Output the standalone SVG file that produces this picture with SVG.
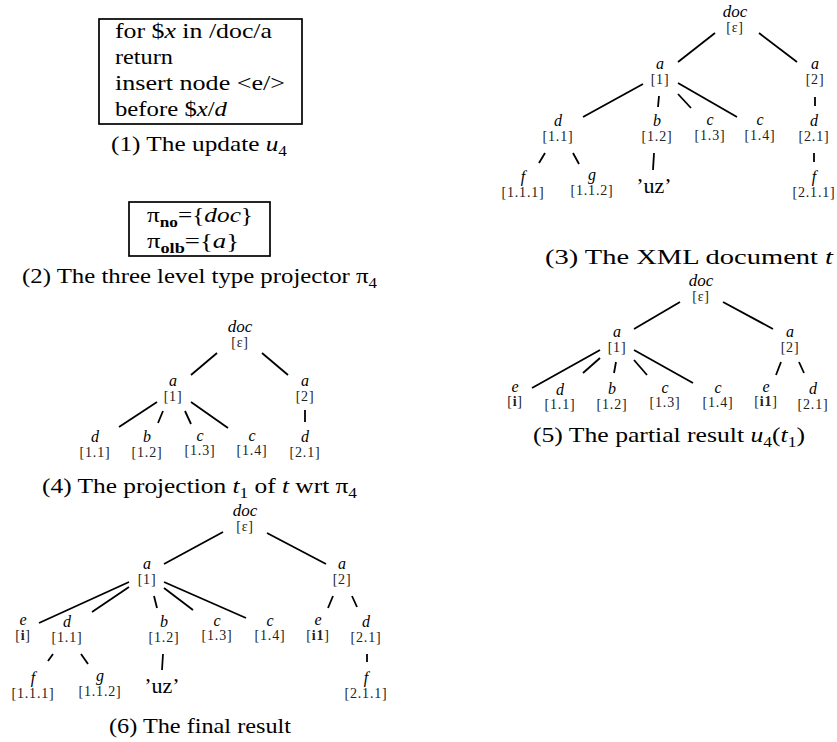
<svg xmlns="http://www.w3.org/2000/svg" width="837" height="742" viewBox="0 0 837 742">
<style>
text { font-family: "Liberation Serif", "Times New Roman", serif; fill: #000; }
.cap { font-size: 22px; }
.it { font-style: italic; }
.sub { font-size: 15px; }
.bf { font-weight: bold; }
.lab { font-size: 16px; font-style: italic; text-anchor: middle; }
.doc { font-size: 17px; }
.idx { font-size: 14px; text-anchor: middle; letter-spacing: 0.8px; fill: #222; }
.big { font-size: 22px; text-anchor: middle; }
.edge { stroke: #000; stroke-width: 1.8; fill: none; }
.box { fill: none; stroke: #000; stroke-width: 1.7; }
</style>
<rect width="837" height="742" fill="#fff"/>

<!-- (1) update box -->
<g id="panel1">
  <rect class="box" x="99" y="19" width="203" height="105"/>
  <text class="cap" x="115" y="38" textLength="157" lengthAdjust="spacingAndGlyphs">for $<tspan class="it">x</tspan> in /doc/a</text>
  <text class="cap" x="115" y="64" textLength="58" lengthAdjust="spacingAndGlyphs">return</text>
  <text class="cap" x="115" y="90" textLength="170" lengthAdjust="spacingAndGlyphs">insert node &lt;e/&gt;</text>
  <text class="cap" x="115" y="116" textLength="112" lengthAdjust="spacingAndGlyphs">before $<tspan class="it">x</tspan>/<tspan class="it">d</tspan></text>
  <text class="cap" x="111" y="151" textLength="176" lengthAdjust="spacingAndGlyphs">(1) The update <tspan class="it">u</tspan><tspan class="sub" dy="5">4</tspan></text>
</g>

<!-- (2) projector box -->
<g id="panel2">
  <rect class="box" x="129" y="202" width="141" height="54"/>
  <text class="cap" x="147" y="222" textLength="106" lengthAdjust="spacingAndGlyphs">π<tspan class="sub bf" dy="5">no</tspan><tspan dy="-5">={</tspan><tspan class="it">doc</tspan>}</text>
  <text class="cap" x="147" y="248" textLength="92" lengthAdjust="spacingAndGlyphs">π<tspan class="sub bf" dy="5">olb</tspan><tspan dy="-5">={</tspan><tspan class="it">a</tspan>}</text>
  <text class="cap" x="22" y="283" textLength="355" lengthAdjust="spacingAndGlyphs">(2) The three level type projector π<tspan class="sub" dy="5">4</tspan></text>
</g>

<!-- (4) projection tree -->
<g id="tree4">
  <g id="t4-edges">
    <line class="edge" x1="217" y1="353" x2="191" y2="375"/>
    <line class="edge" x1="262" y1="353" x2="288" y2="375"/>
    <line class="edge" x1="157" y1="402" x2="119" y2="427"/>
    <line class="edge" x1="163" y1="411" x2="158" y2="423"/>
    <line class="edge" x1="185" y1="411" x2="191" y2="424"/>
    <line class="edge" x1="191" y1="402" x2="228" y2="428"/>
    <line class="edge" x1="305" y1="410" x2="305" y2="422"/>
  </g>
  <g id="t4-doc"><text class="lab doc" x="240" y="332">doc</text><text class="idx" x="240" y="347">[ε]</text></g>
  <g id="t4-a1"><text class="lab" x="173" y="386">a</text><text class="idx" x="173" y="401">[1]</text></g>
  <g id="t4-a2"><text class="lab" x="305" y="386">a</text><text class="idx" x="305" y="401">[2]</text></g>
  <g id="t4-d11"><text class="lab" x="95" y="442">d</text><text class="idx" x="95" y="457">[1.1]</text></g>
  <g id="t4-b12"><text class="lab" x="147" y="442">b</text><text class="idx" x="147" y="457">[1.2]</text></g>
  <g id="t4-c13"><text class="lab" x="200" y="441">c</text><text class="idx" x="200" y="455">[1.3]</text></g>
  <g id="t4-c14"><text class="lab" x="252" y="441">c</text><text class="idx" x="252" y="455">[1.4]</text></g>
  <g id="t4-d21"><text class="lab" x="305" y="442">d</text><text class="idx" x="305" y="457">[2.1]</text></g>
  <text class="cap" x="42" y="493" textLength="315" lengthAdjust="spacingAndGlyphs">(4) The projection <tspan class="it">t</tspan><tspan class="sub" dy="5">1</tspan><tspan dy="-5"> of </tspan><tspan class="it">t</tspan> wrt π<tspan class="sub" dy="5">4</tspan></text>
</g>

<!-- (6) final result tree -->
<g id="tree6">
  <g id="t6-edges">
    <line class="edge" x1="223" y1="532" x2="164" y2="564"/>
    <line class="edge" x1="267" y1="533" x2="326" y2="564"/>
    <line class="edge" x1="129" y1="582" x2="39" y2="623"/>
    <line class="edge" x1="129" y1="587" x2="92" y2="612"/>
    <line class="edge" x1="154" y1="596" x2="157" y2="608"/>
    <line class="edge" x1="164" y1="588" x2="193" y2="610"/>
    <line class="edge" x1="164" y1="582" x2="246" y2="618"/>
    <line class="edge" x1="333" y1="596" x2="328" y2="608"/>
    <line class="edge" x1="352" y1="596" x2="357" y2="607"/>
    <line class="edge" x1="53" y1="654" x2="48" y2="661"/>
    <line class="edge" x1="81" y1="654" x2="88" y2="664"/>
    <line class="edge" x1="163" y1="654" x2="162" y2="670"/>
    <line class="edge" x1="367" y1="654" x2="367" y2="662"/>
  </g>
  <g id="t6-doc"><text class="lab doc" x="245" y="516">doc</text><text class="idx" x="245" y="531">[ε]</text></g>
  <g id="t6-a1"><text class="lab" x="147" y="569">a</text><text class="idx" x="147" y="584">[1]</text></g>
  <g id="t6-a2"><text class="lab" x="342" y="569">a</text><text class="idx" x="342" y="584">[2]</text></g>
  <g id="t6-e1"><text class="lab" x="23" y="625">e</text><text class="idx" x="23" y="640">[<tspan class="bf">i</tspan>]</text></g>
  <g id="t6-d11"><text class="lab" x="67" y="627">d</text><text class="idx" x="67" y="642">[1.1]</text></g>
  <g id="t6-b12"><text class="lab" x="164" y="627">b</text><text class="idx" x="164" y="642">[1.2]</text></g>
  <g id="t6-c13"><text class="lab" x="217" y="626">c</text><text class="idx" x="217" y="640">[1.3]</text></g>
  <g id="t6-c14"><text class="lab" x="270" y="626">c</text><text class="idx" x="270" y="640">[1.4]</text></g>
  <g id="t6-e2"><text class="lab" x="318" y="625">e</text><text class="idx" x="318" y="640">[<tspan class="bf">i1</tspan>]</text></g>
  <g id="t6-d21"><text class="lab" x="366" y="627">d</text><text class="idx" x="366" y="642">[2.1]</text></g>
  <g id="t6-f111"><text class="lab" x="33" y="683">f</text><text class="idx" x="33" y="698">[1.1.1]</text></g>
  <g id="t6-g112"><text class="lab" x="100" y="681">g</text><text class="idx" x="100" y="696">[1.1.2]</text></g>
  <g id="t6-uz"><text class="big" x="162" y="693">’uz’</text></g>
  <g id="t6-f211"><text class="lab" x="366" y="683">f</text><text class="idx" x="366" y="698">[2.1.1]</text></g>
  <text class="cap" x="109" y="733" textLength="182" lengthAdjust="spacingAndGlyphs">(6) The final result</text>
</g>

<!-- (3) XML document tree -->
<g id="tree3">
  <g id="t3-edges">
    <line class="edge" x1="715" y1="33" x2="678" y2="62"/>
    <line class="edge" x1="759" y1="33" x2="797" y2="62"/>
    <line class="edge" x1="643" y1="84" x2="583" y2="117"/>
    <line class="edge" x1="659" y1="96" x2="658" y2="107"/>
    <line class="edge" x1="678" y1="94" x2="691" y2="108"/>
    <line class="edge" x1="678" y1="83" x2="737" y2="117"/>
    <line class="edge" x1="815" y1="97" x2="815" y2="106"/>
    <line class="edge" x1="545" y1="153" x2="539" y2="163"/>
    <line class="edge" x1="573" y1="153" x2="579" y2="164"/>
    <line class="edge" x1="654" y1="153" x2="653" y2="170"/>
    <line class="edge" x1="814" y1="153" x2="814" y2="162"/>
  </g>
  <g id="t3-doc"><text class="lab doc" x="735" y="17">doc</text><text class="idx" x="735" y="32">[ε]</text></g>
  <g id="t3-a1"><text class="lab" x="660" y="69">a</text><text class="idx" x="660" y="84">[1]</text></g>
  <g id="t3-a2"><text class="lab" x="815" y="69">a</text><text class="idx" x="815" y="84">[2]</text></g>
  <g id="t3-d11"><text class="lab" x="558" y="126">d</text><text class="idx" x="558" y="141">[1.1]</text></g>
  <g id="t3-b12"><text class="lab" x="657" y="126">b</text><text class="idx" x="657" y="141">[1.2]</text></g>
  <g id="t3-c13"><text class="lab" x="710" y="125">c</text><text class="idx" x="710" y="140">[1.3]</text></g>
  <g id="t3-c14"><text class="lab" x="760" y="125">c</text><text class="idx" x="760" y="140">[1.4]</text></g>
  <g id="t3-d21"><text class="lab" x="814" y="126">d</text><text class="idx" x="814" y="141">[2.1]</text></g>
  <g id="t3-f111"><text class="lab" x="523" y="182">f</text><text class="idx" x="523" y="197">[1.1.1]</text></g>
  <g id="t3-g112"><text class="lab" x="592" y="180">g</text><text class="idx" x="592" y="195">[1.1.2]</text></g>
  <g id="t3-uz"><text class="big" x="654" y="193">’uz’</text></g>
  <g id="t3-f211"><text class="lab" x="814" y="182">f</text><text class="idx" x="814" y="197">[2.1.1]</text></g>
  <text class="cap" x="545" y="264" textLength="288" lengthAdjust="spacingAndGlyphs">(3) The XML document <tspan class="it">t</tspan></text>
</g>

<!-- (5) partial result tree -->
<g id="tree5">
  <g id="t5-edges">
    <line class="edge" x1="680" y1="302" x2="634" y2="329"/>
    <line class="edge" x1="723" y1="302" x2="773" y2="329"/>
    <line class="edge" x1="600" y1="350" x2="532" y2="388"/>
    <line class="edge" x1="600" y1="358" x2="583" y2="373"/>
    <line class="edge" x1="616" y1="362" x2="614" y2="373"/>
    <line class="edge" x1="634" y1="360" x2="647" y2="375"/>
    <line class="edge" x1="634" y1="350" x2="693" y2="383"/>
    <line class="edge" x1="781" y1="362" x2="776" y2="375"/>
    <line class="edge" x1="799" y1="362" x2="804" y2="373"/>
  </g>
  <g id="t5-doc"><text class="lab doc" x="701" y="286">doc</text><text class="idx" x="701" y="301">[ε]</text></g>
  <g id="t5-a1"><text class="lab" x="617" y="337">a</text><text class="idx" x="617" y="352">[1]</text></g>
  <g id="t5-a2"><text class="lab" x="790" y="337">a</text><text class="idx" x="790" y="352">[2]</text></g>
  <g id="t5-e1"><text class="lab" x="515" y="392">e</text><text class="idx" x="515" y="406">[<tspan class="bf">i</tspan>]</text></g>
  <g id="t5-d11"><text class="lab" x="560" y="395">d</text><text class="idx" x="560" y="409">[1.1]</text></g>
  <g id="t5-b12"><text class="lab" x="612" y="394">b</text><text class="idx" x="612" y="409">[1.2]</text></g>
  <g id="t5-c13"><text class="lab" x="665" y="393">c</text><text class="idx" x="665" y="407">[1.3]</text></g>
  <g id="t5-c14"><text class="lab" x="718" y="393">c</text><text class="idx" x="718" y="407">[1.4]</text></g>
  <g id="t5-e2"><text class="lab" x="766" y="392">e</text><text class="idx" x="766" y="406">[<tspan class="bf">i1</tspan>]</text></g>
  <g id="t5-d21"><text class="lab" x="813" y="394">d</text><text class="idx" x="813" y="409">[2.1]</text></g>
  <text class="cap" x="533" y="442" textLength="272" lengthAdjust="spacingAndGlyphs">(5) The partial result <tspan class="it">u</tspan><tspan class="sub" dy="5">4</tspan><tspan dy="-5">(</tspan><tspan class="it">t</tspan><tspan class="sub" dy="5">1</tspan><tspan dy="-5">)</tspan></text>
</g>
</svg>
